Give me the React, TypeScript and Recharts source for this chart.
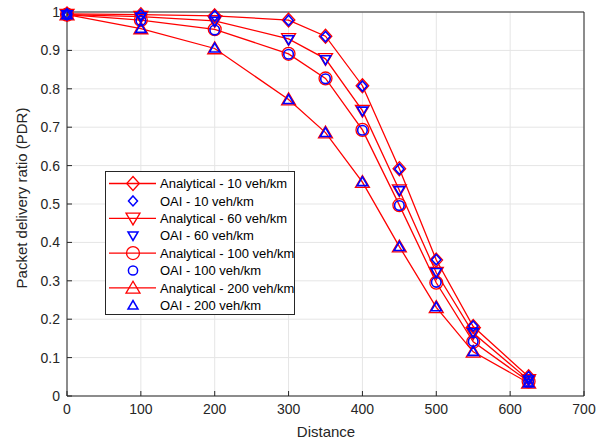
import { CartesianGrid, Label, Legend, Line, LineChart, XAxis, YAxis } from "recharts";

const distances = [0, 100, 200, 300, 350, 400, 450, 500, 550, 625];

const analytical10 = [0.995, 0.993, 0.99, 0.979, 0.937, 0.808, 0.592, 0.354, 0.181, 0.05];
const analytical60 = [0.993, 0.988, 0.977, 0.93, 0.878, 0.743, 0.536, 0.321, 0.164, 0.042];
const analytical100 = [0.993, 0.979, 0.955, 0.891, 0.827, 0.693, 0.497, 0.295, 0.141, 0.038];
const analytical200 = [0.993, 0.957, 0.905, 0.772, 0.686, 0.557, 0.389, 0.231, 0.115, 0.034];

const oai10 = [0.995, 0.993, 0.99, 0.978, 0.936, 0.807, 0.591, 0.355, 0.182, 0.05];
const oai60 = [0.993, 0.987, 0.976, 0.928, 0.876, 0.742, 0.535, 0.322, 0.165, 0.042];
const oai100 = [0.993, 0.978, 0.953, 0.89, 0.826, 0.692, 0.496, 0.296, 0.142, 0.038];
const oai200 = [0.993, 0.957, 0.906, 0.772, 0.686, 0.558, 0.389, 0.232, 0.116, 0.034];

const xTicks = [0, 100, 200, 300, 400, 500, 600, 700];
const yTicks = [0, 0.1, 0.2, 0.3, 0.4, 0.5, 0.6, 0.7, 0.8, 0.9, 1];

const legendItems = [
  { label: "Analytical - 10 veh/km", shape: "diamond", line: true },
  { label: "OAI - 10 veh/km", shape: "diamond", line: false },
  { label: "Analytical - 60 veh/km", shape: "down", line: true },
  { label: "OAI - 60 veh/km", shape: "down", line: false },
  { label: "Analytical - 100 veh/km", shape: "circle", line: true },
  { label: "OAI - 100 veh/km", shape: "circle", line: false },
  { label: "Analytical - 200 veh/km", shape: "up", line: true },
  { label: "OAI - 200 veh/km", shape: "up", line: false },
];

const data = distances.map((d, i) => ({
  d,
  a10: analytical10[i],
  a60: analytical60[i],
  a100: analytical100[i],
  a200: analytical200[i],
  o10: oai10[i],
  o60: oai60[i],
  o100: oai100[i],
  o200: oai200[i],
}));

const RED = "#ff0000";
const BLUE = "#0000ff";
const AXIS = "#262626";
const FONT = "'Liberation Sans', Arial, Helvetica, sans-serif";

function Marker({ shape, cx, cy, r, color, sw }: any) {
  if (cx == null || cy == null) return <g />;
  if (shape === "circle") {
    return <circle cx={cx} cy={cy} r={r * 0.92} fill="none" stroke={color} strokeWidth={sw} />;
  }
  let pts = "";
  if (shape === "diamond") {
    pts = `${cx},${cy - r} ${cx + r * 0.9},${cy} ${cx},${cy + r} ${cx - r * 0.9},${cy}`;
  } else if (shape === "down") {
    pts = `${cx - r},${cy - r * 0.75} ${cx + r},${cy - r * 0.75} ${cx},${cy + r * 0.95}`;
  } else {
    pts = `${cx - r},${cy + r * 0.75} ${cx + r},${cy + r * 0.75} ${cx},${cy - r * 0.95}`;
  }
  return <polygon points={pts} fill="none" stroke={color} strokeWidth={sw} strokeLinejoin="miter" />;
}

const makeDot = (shape: string, r: number, color: string, sw: number) => (props: any) => (
  <Marker key={`${shape}-${color}-${props.index}`} shape={shape} cx={props.cx} cy={props.cy} r={r} color={color} sw={sw} />
);

function LegendBox() {
  const rowH = 17.4;
  return (
    <svg width={190} height={144} style={{ display: "block" }}>
      <rect x={0.5} y={0.5} width={189} height={143} fill="#fff" stroke={AXIS} strokeWidth={1} />
      {legendItems.map((item, i) => {
        const cy = 12.5 + i * rowH;
        return (
          <g key={item.label}>
            {item.line && <line x1={4} x2={51} y1={cy} y2={cy} stroke={RED} strokeWidth={1.3} />}
            {item.line ? (
              <Marker shape={item.shape} cx={28} cy={cy} r={7} color={RED} sw={1.3} />
            ) : (
              <Marker shape={item.shape} cx={28} cy={cy} r={5} color={BLUE} sw={1.5} />
            )}
            <text x={55} y={cy + 4.6} fontSize={13} fill="#000" fontFamily={FONT}>
              {item.label}
            </text>
          </g>
        );
      })}
    </svg>
  );
}

const series = [
  { a: "a10", o: "o10", shape: "diamond" },
  { a: "a60", o: "o60", shape: "down" },
  { a: "a100", o: "o100", shape: "circle" },
  { a: "a200", o: "o200", shape: "up" },
];

export default function App() {
  const tickStyle = { fontSize: 14, fill: AXIS, fontFamily: FONT };
  return (
    <div style={{ position: "absolute", left: 0, top: 0, width: 605, height: 443, background: "#fff" }}>
      <LineChart width={605} height={443} data={data} margin={{ top: 11, right: 20, bottom: 0, left: 0 }}>
        <CartesianGrid stroke="#e5e5e5" strokeWidth={1} />
        <XAxis
          dataKey="d"
          type="number"
          domain={[0, 700]}
          ticks={xTicks}
          height={47}
          tickSize={-5}
          tickMargin={13}
          stroke={AXIS}
          tick={tickStyle}
          interval={0}
        >
          <Label
            content={() => (
              <text x={326} y={437} textAnchor="middle" fontSize={15} fill={AXIS} fontFamily={FONT}>
                Distance
              </text>
            )}
          />
        </XAxis>
        <XAxis
          xAxisId="top"
          orientation="top"
          type="number"
          domain={[0, 700]}
          ticks={xTicks}
          height={1}
          tickSize={-5}
          stroke={AXIS}
          tickFormatter={() => ""}
          interval={0}
        />
        <YAxis
          type="number"
          domain={[0, 1]}
          ticks={yTicks}
          width={67}
          tickSize={-5}
          tickMargin={12}
          stroke={AXIS}
          tick={tickStyle}
          interval={0}
          tickFormatter={(v: number) => String(Math.round(v * 10) / 10)}
        >
          <Label
            content={() => (
              <text
                x={27}
                y={198}
                textAnchor="middle"
                fontSize={15}
                fill={AXIS}
                fontFamily={FONT}
                transform="rotate(-90 27 198)"
              >
                Packet delivery ratio (PDR)
              </text>
            )}
          />
        </YAxis>
        <YAxis
          yAxisId="right"
          orientation="right"
          type="number"
          domain={[0, 1]}
          ticks={yTicks}
          width={1}
          tickSize={-5}
          stroke={AXIS}
          tickFormatter={() => ""}
          interval={0}
        />
        {series.map((s) => (
          <Line
            key={s.a}
            dataKey={s.a}
            stroke={RED}
            strokeWidth={1.3}
            dot={makeDot(s.shape, 7, RED, 1.3)}
            activeDot={false}
            isAnimationActive={false}
          />
        ))}
        {series.map((s) => (
          <Line
            key={s.o}
            dataKey={s.o}
            stroke="none"
            strokeWidth={0}
            dot={makeDot(s.shape, 5.2, BLUE, 1.6)}
            activeDot={false}
            isAnimationActive={false}
          />
        ))}
        <Legend
          layout="vertical"
          align="center"
          verticalAlign="middle"
          content={() => <LegendBox />}
          wrapperStyle={{ position: "absolute", left: 105, top: 171, width: 190, height: 144 }}
        />
      </LineChart>
    </div>
  );
}
